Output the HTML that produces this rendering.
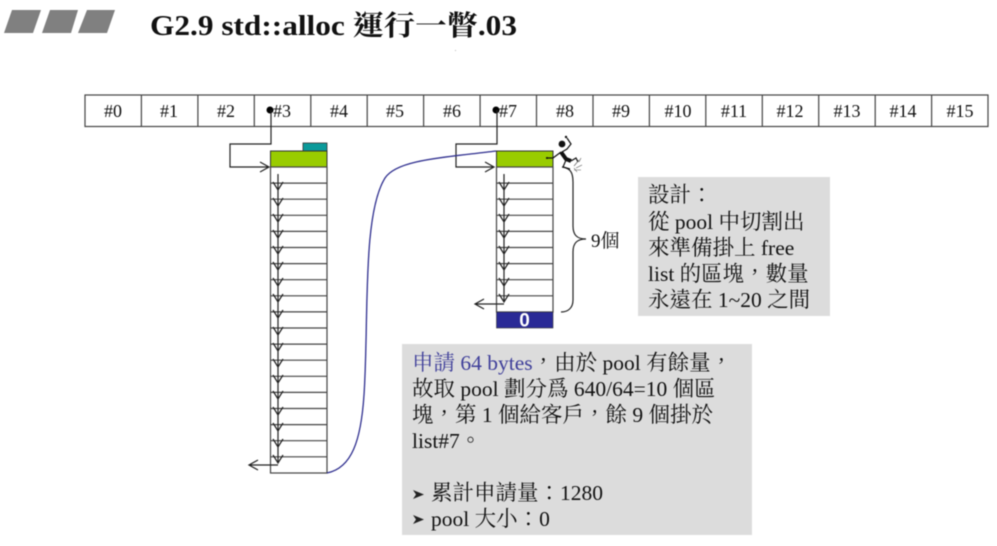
<!DOCTYPE html>
<html lang="zh-Hant"><head><meta charset="utf-8"><style>
html,body{margin:0;padding:0;background:#fff}
svg{display:block}
text{font-family:"Liberation Serif","Noto Serif CJK TC","Noto Serif CJK SC",serif;fill:#111}
</style></head><body>
<svg id="s" lang="zh-Hant" width="997" height="546" viewBox="0 0 997 546" xmlns="http://www.w3.org/2000/svg">
<g style="filter:blur(0.4px)">
<g fill="#808080"><polygon points="12,10 41,10 33,33 4,33"/><polygon points="50,10 78,10 71,33 42,33"/><polygon points="87,10 115,10 107,33 78,33"/></g>
<text x="150" y="35" font-size="28" font-weight="bold" textLength="367" lengthAdjust="spacingAndGlyphs">G2.9 std::alloc 運行一瞥.03</text>
<rect x="455" y="50" width="1" height="1" fill="#bbb"/>

<!-- top row -->
<rect x="85" y="95" width="903" height="31.5" fill="#fff" stroke="#444" stroke-width="1.2"/>
<g stroke="#444" stroke-width="1.2">
<line x1="141.4" y1="95" x2="141.4" y2="126"/><line x1="197.9" y1="95" x2="197.9" y2="126"/><line x1="254.3" y1="95" x2="254.3" y2="126"/><line x1="310.8" y1="95" x2="310.8" y2="126"/><line x1="367.2" y1="95" x2="367.2" y2="126"/><line x1="423.6" y1="95" x2="423.6" y2="126"/><line x1="480.1" y1="95" x2="480.1" y2="126"/><line x1="536.5" y1="95" x2="536.5" y2="126"/><line x1="593" y1="95" x2="593" y2="126"/><line x1="649.4" y1="95" x2="649.4" y2="126"/><line x1="705.8" y1="95" x2="705.8" y2="126"/><line x1="762.3" y1="95" x2="762.3" y2="126"/><line x1="818.7" y1="95" x2="818.7" y2="126"/><line x1="875.2" y1="95" x2="875.2" y2="126"/><line x1="931.6" y1="95" x2="931.6" y2="126"/>
</g>
<g font-size="18" text-anchor="middle">
<text x="113" y="117">#0</text><text x="169" y="117">#1</text><text x="226" y="117">#2</text><text x="282" y="117">#3</text><text x="339" y="117">#4</text><text x="395" y="117">#5</text><text x="452" y="117">#6</text><text x="508" y="117">#7</text><text x="565" y="117">#8</text><text x="621" y="117">#9</text><text x="678" y="117">#10</text><text x="734" y="117">#11</text><text x="790" y="117">#12</text><text x="847" y="117">#13</text><text x="903" y="117">#14</text><text x="960" y="117">#15</text>
</g>

<!-- list 3 -->
<rect x="303" y="143" width="24" height="8" fill="#0a9a9a" stroke="#333" stroke-width="0.8"/>
<rect x="270.5" y="151" width="56.5" height="16" fill="#99cc00" stroke="#333" stroke-width="1"/>
<rect x="270.5" y="167" width="56.5" height="306" fill="#fff" stroke="#444" stroke-width="1.2"/>
<g stroke="#444" stroke-width="1.2">
<line x1="270" y1="183.1" x2="327" y2="183.1"/><line x1="270" y1="199.2" x2="327" y2="199.2"/><line x1="270" y1="215.3" x2="327" y2="215.3"/><line x1="270" y1="231.4" x2="327" y2="231.4"/><line x1="270" y1="247.5" x2="327" y2="247.5"/><line x1="270" y1="263.6" x2="327" y2="263.6"/><line x1="270" y1="279.7" x2="327" y2="279.7"/><line x1="270" y1="295.8" x2="327" y2="295.8"/><line x1="270" y1="311.9" x2="327" y2="311.9"/><line x1="270" y1="328" x2="327" y2="328"/><line x1="270" y1="344.1" x2="327" y2="344.1"/><line x1="270" y1="360.2" x2="327" y2="360.2"/><line x1="270" y1="376.3" x2="327" y2="376.3"/><line x1="270" y1="392.4" x2="327" y2="392.4"/><line x1="270" y1="408.5" x2="327" y2="408.5"/><line x1="270" y1="424.6" x2="327" y2="424.6"/><line x1="270" y1="440.7" x2="327" y2="440.7"/><line x1="270" y1="456.8" x2="327" y2="456.8"/>
</g>
<path fill="none" stroke="#222" stroke-width="1.2" d="M278 174V190M273 182L278 190L283 182M278 190V206M273 198L278 206L283 198M278 206V222M273 214L278 222L283 214M278 222V238M273 230L278 238L283 230M278 238V254M273 246L278 254L283 246M278 254V270M273 262L278 270L283 262M278 270V286M273 278L278 286L283 278M278 286V302M273 294L278 302L283 294M278 302V318M273 310L278 318L283 310M278 318V335M273 327L278 335L283 327M278 335V351M273 343L278 351L283 343M278 351V367M273 359L278 367L283 359M278 367V383M273 375L278 383L283 375M278 383V399M273 391L278 399L283 391M278 399V415M273 407L278 415L283 407M278 415V431M273 423L278 431L283 423M278 431V447M273 439L278 447L283 439M278 447V463M273 455L278 463L283 455M278 465H249M258 460L249 465L258 470"/>
<circle cx="270" cy="110" r="3.5" fill="#000"/>
<path fill="none" stroke="#222" stroke-width="1.2" d="M271 110V144H230V167H269M260 162L269 167L260 172"/>

<!-- list 7 -->
<rect x="496.5" y="151" width="56.5" height="16" fill="#99cc00" stroke="#333" stroke-width="1"/>
<rect x="496.5" y="167" width="56.5" height="145" fill="#fff" stroke="#444" stroke-width="1.2"/>
<g stroke="#444" stroke-width="1.2">
<line x1="496" y1="183.1" x2="553" y2="183.1"/><line x1="496" y1="199.2" x2="553" y2="199.2"/><line x1="496" y1="215.3" x2="553" y2="215.3"/><line x1="496" y1="231.4" x2="553" y2="231.4"/><line x1="496" y1="247.5" x2="553" y2="247.5"/><line x1="496" y1="263.6" x2="553" y2="263.6"/><line x1="496" y1="279.7" x2="553" y2="279.7"/><line x1="496" y1="295.8" x2="553" y2="295.8"/>
</g>
<path fill="none" stroke="#222" stroke-width="1.2" d="M504 174V190M499 182L504 190L509 182M504 190V206M499 198L504 206L509 198M504 206V222M499 214L504 222L509 214M504 222V238M499 230L504 238L509 230M504 238V254M499 246L504 254L509 246M504 254V270M499 262L504 270L509 262M504 270V286M499 278L504 286L509 278M504 286V302M499 294L504 302L509 294M504 304H475M484 299L475 304L484 309"/>
<rect x="496.5" y="312" width="56.5" height="16" fill="#2a2a96" stroke="#333" stroke-width="0.6"/>
<text x="524.5" y="326.5" font-size="19" font-weight="bold" text-anchor="middle" style="font-family:'Liberation Sans',sans-serif;fill:#fff">0</text>
<circle cx="496" cy="110" r="3.5" fill="#000"/>
<path fill="none" stroke="#222" stroke-width="1.2" d="M497 110V144H456V167H494M485 162L494 167L485 172"/>

<!-- blue curve -->
<path fill="none" stroke="#2f2f8f" stroke-width="1.3" d="M327 473C352 468 361 440 364 395C369 320 362 215 385 178C397 160 440 158 496 151"/>

<!-- brace -->
<path fill="none" stroke="#222" stroke-width="1.2" d="M562 167C570 168 573 172 573 182V226C573 235 577 239 586 239C577 239 573 243 573 252V300C573 308 568 312 561 312"/>
<text x="591" y="247" font-size="19">9個</text>

<!-- climber -->
<g fill="none" stroke="#111">
<circle cx="562" cy="144" r="3.4" fill="#111" stroke="none"/>
<path stroke-width="1.2" d="M567 138L571 144L567 149L562 152"/>
<circle cx="566" cy="137" r="1.2" fill="#111" stroke="none"/>
<path stroke-width="4" d="M561 152L566 159L571 161"/>
<path stroke-width="1.2" d="M561 152L553 158H546M571 161L576 158L578 162M566 160L563 167L570 169"/>
<circle cx="547" cy="158" r="1" fill="#111" stroke="none"/>
<path stroke-width="0.6" stroke="#555" d="M574 166L579 160M576 168L582 165M574 170L581 170M577 172L574 168M581 158L579 162"/>
</g>

<!-- design box -->
<rect x="638" y="177" width="192" height="139" fill="#dcdcdc"/>
<g font-size="21.5">
<text x="648" y="202">設計：</text>
<text x="648" y="229">從 pool 中切割出</text>
<text x="648" y="255">來準備掛上 free</text>
<text x="648" y="281">list 的區塊，數量</text>
<text x="648" y="307">永遠在 1~20 之間</text>
</g>

<!-- request box -->
<rect x="402" y="344" width="350" height="191" fill="#dcdcdc"/>
<g font-size="21.5">
<text x="412" y="370"><tspan style="fill:#3f3f9a">申請 64 bytes</tspan>，由於 pool 有餘量，</text>
<text x="412" y="396">故取 pool 劃分爲 640/64=10 個區</text>
<text x="412" y="422">塊，第 1 個給客戶，餘 9 個掛於</text>
<text x="412" y="448">list#7。</text>
<text x="431" y="500">累計申請量：1280</text>
<text x="431" y="526">pool 大小：0</text>
</g>
<polygon points="413,490 424,494.5 413,499 416,494.5" fill="#222"/>
<polygon points="413,515 424,519.5 413,524 416,519.5" fill="#222"/>
</g>
</svg>
</body></html>
